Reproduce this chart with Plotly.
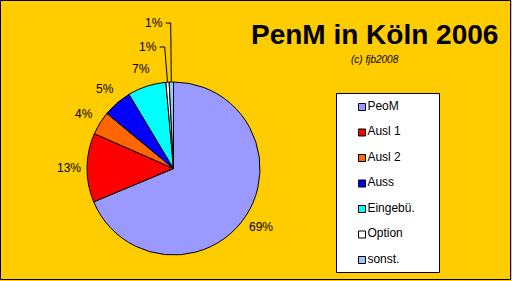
import math
import plotly.graph_objects as go

labels = ["PeoM", "Ausl 1", "Ausl 2", "Auss", "Eingebü.", "Option", "sonst."]
values = [68.7, 12.9, 4.4, 5.4, 7.2, 0.6, 0.8]
colors = ["#9999FF", "#FF0000", "#FF6600", "#0000FF", "#00FFFF", "#FFFFFF", "#99CCFF"]
title_text = "PenM in Köln 2006"
subtitle_text = "(c) fjb2008"

W, H = 512, 281
FONT = "Liberation Sans, Arial, sans-serif"

def px(x):
    return x / W

def py(y):
    return 1 - y / H

# pie placement (pixels)
PIE_L, PIE_R, PIE_T, PIE_B = 87, 260, 82, 255
CX, CY = (PIE_L + PIE_R) / 2, (PIE_T + PIE_B) / 2
R = (PIE_R - PIE_L) / 2
LABEL_DIST = 1.21
# labels of tiny slices are lifted above the pie with leader lines
LIFTED = {5: (148, 47), 6: (154, 23)}
LABEL_HALF_W = 8.7

fig = go.Figure()

fig.add_trace(go.Pie(
    labels=labels,
    values=values,
    sort=False,
    direction="clockwise",
    rotation=0,
    marker=dict(colors=colors, line=dict(color="black", width=1)),
    textinfo="none",
    domain=dict(x=[px(PIE_L), px(PIE_R)], y=[py(PIE_B), py(PIE_T)]),
    showlegend=False,
    hoverinfo="skip",
))

# percent labels computed from the data
total = sum(values)
annotations = []
shapes = []
cum = 0.0
for i, v in enumerate(values):
    mid = (cum + v / 2) / total * 2 * math.pi
    cum += v
    pct = "%d%%" % round(v / total * 100)
    if i in LIFTED:
        lx, ly = LIFTED[i]
        ex = CX + R * math.sin(mid)
        ey = CY - R * math.cos(mid)
        x1 = lx + LABEL_HALF_W + 3
        x2 = x1 + 5
        shapes.append(dict(type="line", xref="paper", yref="paper",
                           x0=px(x1), y0=py(ly), x1=px(x2), y1=py(ly),
                           line=dict(color="black", width=1)))
        shapes.append(dict(type="line", xref="paper", yref="paper",
                           x0=px(x2), y0=py(ly), x1=px(ex), y1=py(ey),
                           line=dict(color="black", width=1)))
    else:
        lx = CX + LABEL_DIST * R * math.sin(mid)
        ly = CY - LABEL_DIST * R * math.cos(mid)
    annotations.append(dict(text=pct, xref="paper", yref="paper",
                            x=px(lx), y=py(ly), xanchor="center", yanchor="middle",
                            showarrow=False, font=dict(family=FONT, size=12, color="black")))

# manual legend drawn with a scatter trace
n = len(labels)
fig.add_trace(go.Scatter(
    x=[0] * n,
    y=list(range(n, 0, -1)),
    mode="markers+text",
    marker=dict(symbol="square", size=7, color=colors, line=dict(color="black", width=1)),
    text=labels,
    textposition="middle right",
    textfont=dict(family=FONT, size=12, color="black"),
    xaxis="x2",
    yaxis="y2",
    showlegend=False,
    hoverinfo="skip",
    cliponaxis=False,
))

annotations += [
    dict(text="<b>" + title_text + "</b>", xref="paper", yref="paper",
         x=px(374.5), y=py(34), xanchor="center", yanchor="middle",
         showarrow=False, font=dict(family=FONT, size=28, color="black")),
    dict(text="<i>" + subtitle_text + "</i>", xref="paper", yref="paper",
         x=px(375), y=py(60), xanchor="center", yanchor="middle",
         showarrow=False, font=dict(family=FONT, size=10, color="black")),
]

shapes = [
    dict(type="rect", xref="paper", yref="paper",
         x0=px(336.5), x1=px(439.5), y0=py(272.5), y1=py(93.5),
         line=dict(color="black", width=1), fillcolor="white", layer="below"),
    dict(type="rect", xref="paper", yref="paper",
         x0=px(0.5), x1=px(510.5), y0=py(279.5), y1=py(0.5),
         line=dict(color="black", width=1), fillcolor="rgba(0,0,0,0)"),
] + shapes

fig.update_layout(
    width=W,
    height=H,
    margin=dict(l=0, r=0, t=0, b=0),
    paper_bgcolor="#FFCC00",
    plot_bgcolor="rgba(0,0,0,0)",
    xaxis2=dict(domain=[px(358), px(438)], range=[-0.5, 9.5], visible=False, fixedrange=True),
    yaxis2=dict(domain=[py(277.85), py(89.15)], range=[0.3, 7.7], visible=False,
                fixedrange=True, anchor="x2"),
    shapes=shapes,
    annotations=annotations,
)

fig.write_html("out.html")
